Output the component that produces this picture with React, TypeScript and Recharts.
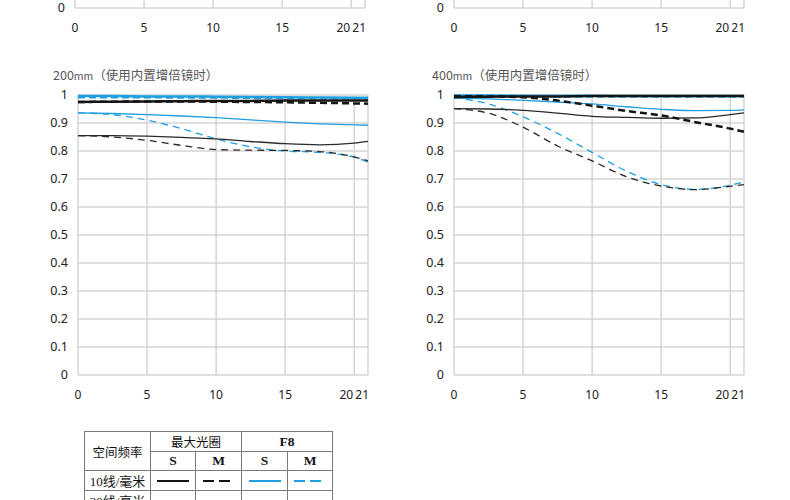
import React from 'react';
import { LineChart, Line, XAxis, YAxis, CartesianGrid } from 'recharts';

// spatial position (mm from image centre)
const freqPos = [0, 2.5, 5, 7.5, 10, 12.5, 15, 17.5, 20, 21];
const xTicks = [0, 5, 10, 15, 20, 21];
const yTicks = [0, 0.1, 0.2, 0.3, 0.4, 0.5, 0.6, 0.7, 0.8, 0.9, 1];

// 200mm
const t200MaxS10 = [0.975, 0.976, 0.977, 0.978, 0.979, 0.979, 0.98, 0.98, 0.98, 0.98];
const t200MaxM10 = [0.975, 0.976, 0.977, 0.977, 0.976, 0.975, 0.974, 0.972, 0.97, 0.969];
const t200F8S10 = [0.996, 0.996, 0.995, 0.995, 0.994, 0.993, 0.992, 0.991, 0.99, 0.99];
const t200F8M10 = [0.992, 0.992, 0.992, 0.991, 0.991, 0.99, 0.99, 0.989, 0.988, 0.988];
const t200MaxS30 = [0.855, 0.855, 0.853, 0.849, 0.843, 0.834, 0.826, 0.822, 0.828, 0.834];
const t200MaxM30 = [0.855, 0.85, 0.838, 0.82, 0.805, 0.803, 0.802, 0.798, 0.779, 0.765];
const t200F8S30 = [0.936, 0.934, 0.93, 0.925, 0.919, 0.911, 0.903, 0.897, 0.893, 0.892];
const t200F8M30 = [0.936, 0.93, 0.91, 0.88, 0.843, 0.815, 0.8, 0.795, 0.778, 0.76];

// 400mm
const t400MaxS10 = [0.993, 0.994, 0.995, 0.995, 0.996, 0.996, 0.996, 0.996, 0.996, 0.996];
const t400MaxM10 = [0.996, 0.995, 0.992, 0.98, 0.962, 0.943, 0.927, 0.903, 0.88, 0.869];
const t400F8S10 = [0.998, 0.998, 0.997, 0.997, 0.997, 0.996, 0.996, 0.996, 0.996, 0.996];
const t400F8M10 = [0.996, 0.996, 0.996, 0.995, 0.995, 0.995, 0.995, 0.995, 0.995, 0.995];
const t400MaxS30 = [0.951, 0.95, 0.945, 0.935, 0.924, 0.92, 0.917, 0.918, 0.93, 0.936];
const t400MaxM30 = [0.951, 0.935, 0.885, 0.818, 0.765, 0.708, 0.675, 0.662, 0.674, 0.68];
const t400F8S30 = [0.989, 0.986, 0.981, 0.975, 0.968, 0.958, 0.949, 0.944, 0.945, 0.947];
const t400F8M30 = [0.99, 0.968, 0.922, 0.863, 0.795, 0.728, 0.68, 0.663, 0.678, 0.69];

const BLUE = '#1f9fe0';
const BLACK = '#151515';
const GRID = '#d4d4d4';

const seriesStyle = [
  { key: 'f8M30', color: BLUE, width: 1.3, dash: '7 5' },
  { key: 'maxM30', color: '#2a2a2a', width: 1.3, dash: '7 5' },
  { key: 'f8S30', color: BLUE, width: 1.3, dash: undefined },
  { key: 'maxS30', color: '#2a2a2a', width: 1.3, dash: undefined },
  { key: 'f8M10', color: BLUE, width: 2.5, dash: '7 4' },
  { key: 'f8S10', color: BLUE, width: 2.5, dash: undefined },
  { key: 'maxM10', color: BLACK, width: 2.5, dash: '7 4' },
  { key: 'maxS10', color: BLACK, width: 2.5, dash: undefined },
];

function buildRows(s: any) {
  return freqPos.map((x, i) => ({
    x,
    maxS10: s.maxS10[i],
    maxM10: s.maxM10[i],
    f8S10: s.f8S10[i],
    f8M10: s.f8M10[i],
    maxS30: s.maxS30[i],
    maxM30: s.maxM30[i],
    f8S30: s.f8S30[i],
    f8M30: s.f8M30[i],
  }));
}

const data200 = buildRows({
  maxS10: t200MaxS10, maxM10: t200MaxM10, f8S10: t200F8S10, f8M10: t200F8M10,
  maxS30: t200MaxS30, maxM30: t200MaxM30, f8S30: t200F8S30, f8M30: t200F8M30,
});
const data400 = buildRows({
  maxS10: t400MaxS10, maxM10: t400MaxM10, f8S10: t400F8S10, f8M10: t400F8M10,
  maxS30: t400MaxS30, maxM30: t400MaxM30, f8S30: t400F8S30, f8M30: t400F8M30,
});

const tickFont = { fontFamily: "'Noto Sans', sans-serif", fontSize: 12.5, fill: '#222' };

// "20" and "21" sit side by side, so nudge them apart like the original
function XTick(props: any) {
  const { x, y, payload } = props;
  let anchor: 'middle' | 'end' = 'middle';
  let dx = 0;
  if (payload.value === 20) { anchor = 'end'; dx = -1; }
  if (payload.value === 21) { anchor = 'end'; dx = 1; }
  return (
    <text x={x + dx} y={y} dy="0.71em" textAnchor={anchor} {...tickFont} fontSize={12}>
      {payload.value}
    </text>
  );
}

function MtfPanel({ data }: { data: any[] }) {
  return (
    <LineChart width={380} height={325} data={data} margin={{ top: 15, right: 12, bottom: 0, left: 48 }}>
      <CartesianGrid stroke={GRID} strokeWidth={1.5} />
      <XAxis
        dataKey="x"
        type="number"
        domain={[0, 21]}
        ticks={xTicks}
        interval={0}
        axisLine={false}
        tickLine={false}
        tickSize={0}
        tickMargin={15}
        height={30}
        tick={<XTick />}
      />
      <YAxis
        type="number"
        domain={[0, 1]}
        ticks={yTicks}
        interval={0}
        axisLine={false}
        tickLine={false}
        tickSize={0}
        tickMargin={10}
        width={30}
        tick={tickFont}
        tickFormatter={(v: number) => (v === 0 || v === 1 ? String(v) : v.toFixed(1))}
      />
      {seriesStyle.map((s) => (
        <Line
          key={s.key}
          dataKey={s.key}
          type="monotone"
          stroke={s.color}
          strokeWidth={s.width}
          strokeDasharray={s.dash}
          dot={false}
          activeDot={false}
          isAnimationActive={false}
        />
      ))}
    </LineChart>
  );
}

const titleStyle: React.CSSProperties = {
  position: 'absolute',
  fontFamily: "'Noto Sans CJK SC', sans-serif",
  fontSize: 12.5,
  lineHeight: '14px',
  color: '#555',
  whiteSpace: 'nowrap',
};

const cell: React.CSSProperties = {
  border: '1px solid #7a7a7a',
  padding: 0,
  textAlign: 'center',
  verticalAlign: 'middle',
};
const latinCell: React.CSSProperties = { ...cell, fontWeight: 'bold', fontSize: 13.5 };

function Sample({ color, dash }: { color: string; dash?: string }) {
  return (
    <svg width={34} height={6} style={{ display: 'block', margin: '0 auto' }}>
      <line x1={1} y1={3} x2={33} y2={3} stroke={color} strokeWidth={2} strokeDasharray={dash} />
    </svg>
  );
}

export default function App() {
  return (
    <div style={{ position: 'absolute', left: 0, top: 0, width: 790, height: 500, overflow: 'hidden', background: '#fff' }}>
      {/* bottom strips of the panels above, cut off by the page edge */}
      <div style={{ position: 'absolute', left: -3, top: -287 }}>
        <MtfPanel data={data200} />
      </div>
      <div style={{ position: 'absolute', left: 376, top: -287 }}>
        <MtfPanel data={data400} />
      </div>

      <div style={{ ...titleStyle, left: 53, top: 68 }}>
        200<span style={{ fontSize: 10.5 }}>mm</span>（使用内置增倍镜时）
      </div>
      <div style={{ ...titleStyle, left: 432, top: 68 }}>
        400<span style={{ fontSize: 10.5 }}>mm</span>（使用内置增倍镜时）
      </div>

      <div style={{ position: 'absolute', left: 0, top: 80 }}>
        <MtfPanel data={data200} />
      </div>
      <div style={{ position: 'absolute', left: 376, top: 80 }}>
        <MtfPanel data={data400} />
      </div>

      <table
        style={{
          position: 'absolute',
          left: 84,
          top: 431,
          borderCollapse: 'collapse',
          tableLayout: 'fixed',
          fontFamily: "'Liberation Serif', 'Noto Sans CJK SC', serif",
          fontSize: 12.5,
          color: '#111',
        }}
      >
        <colgroup>
          <col style={{ width: 66 }} />
          <col style={{ width: 45 }} />
          <col style={{ width: 46 }} />
          <col style={{ width: 46 }} />
          <col style={{ width: 45 }} />
        </colgroup>
        <tbody>
          <tr style={{ height: 20 }}>
            <td style={cell} rowSpan={2}>空间频率</td>
            <td style={cell} colSpan={2}>最大光圈</td>
            <td style={latinCell} colSpan={2}>F8</td>
          </tr>
          <tr style={{ height: 19 }}>
            <td style={latinCell}>S</td>
            <td style={latinCell}>M</td>
            <td style={latinCell}>S</td>
            <td style={latinCell}>M</td>
          </tr>
          <tr style={{ height: 20 }}>
            <td style={{ ...cell, fontSize: 13 }}>10线/毫米</td>
            <td style={cell}><Sample color={BLACK} /></td>
            <td style={cell}><Sample color={BLACK} dash="11 5" /></td>
            <td style={cell}><Sample color={BLUE} /></td>
            <td style={cell}><Sample color={BLUE} dash="11 5" /></td>
          </tr>
          <tr style={{ height: 20 }}>
            <td style={{ ...cell, fontSize: 13 }}>30线/毫米</td>
            <td style={cell}><Sample color={BLACK} /></td>
            <td style={cell}><Sample color={BLACK} dash="11 5" /></td>
            <td style={cell}><Sample color={BLUE} /></td>
            <td style={cell}><Sample color={BLUE} dash="11 5" /></td>
          </tr>
        </tbody>
      </table>
    </div>
  );
}
